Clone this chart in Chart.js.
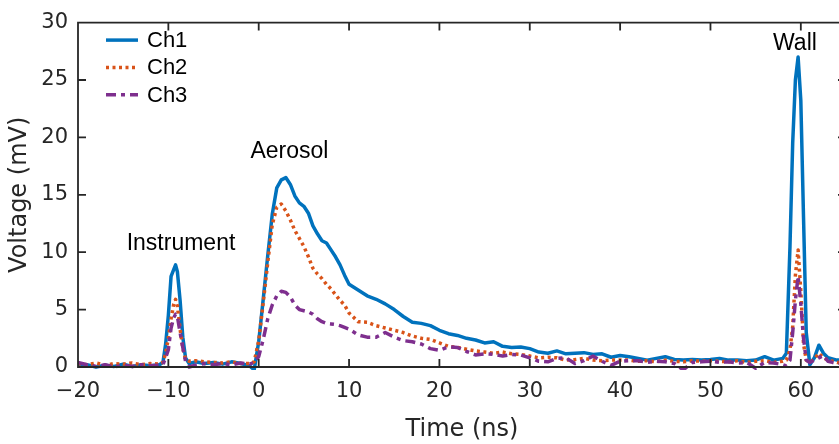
<!DOCTYPE html>
<html>
<head>
<meta charset="utf-8">
<script src="https://cdn.jsdelivr.net/npm/chart.js@4.4.1/dist/chart.umd.min.js"></script>
<style>
  html, body { margin: 0; padding: 0; background: #fff; overflow: hidden; }
  #myChart { display: block; }
</style>
</head>
<body>
<canvas id="myChart" width="846" height="444"></canvas>
<script>
// Sample times (ns), shared by all three channels
const timeNs = [
    -20, -19, -18, -17, -16, -15, -14, -13, -12, -11,
    -10.6, -10.3, -10, -9.7, -9.4, -9.2, -9, -8.7, -8.4, -8.1,
    -7.7, -7, -6, -5, -4, -3, -2, -1, -0.5, 0,
    0.5, 1, 1.5, 2, 2.5, 3, 3.5, 4, 4.5, 5,
    5.5, 6, 6.5, 7, 7.5, 8, 8.5, 9, 9.5, 10,
    11, 12, 13, 14, 15, 16, 17, 18, 19, 20,
    21, 22, 23, 24, 25, 26, 27, 28, 29, 30,
    31, 32, 33, 34, 35, 36, 37, 38, 39, 40,
    41, 42, 43, 44, 45, 46, 47, 48, 49, 50,
    51, 52, 53, 54, 55, 56, 57, 58, 58.4, 58.8,
    59.1, 59.4, 59.7, 60, 60.3, 60.6, 61, 61.5, 62, 62.5,
    63, 63.5, 64, 64.5, 65
];

// Voltage (mV) for each channel
const ch1 = [
    0.1, 0.2, 0.0, 0.15, 0.05, 0.25, 0.05, 0.2, 0.1, 0.2,
    0.4, 2.0, 4.5, 7.9, 8.5, 8.9, 8.3, 5.8, 2.6, 0.8,
    0.3, 0.45, 0.3, 0.4, 0.25, 0.45, 0.3, 0.1, -0.25, 2.2,
    5.9, 9.7, 13.3, 15.6, 16.3, 16.5, 15.9, 14.9, 14.3, 14.0,
    13.4, 12.3, 11.6, 11.0, 10.8, 10.2, 9.6, 8.9, 8.0, 7.2,
    6.7, 6.2, 5.9, 5.5, 5.0, 4.4, 3.9, 3.8, 3.6, 3.2,
    2.9, 2.75, 2.5, 2.35, 2.1, 2.2, 1.8, 1.7, 1.75, 1.6,
    1.3, 1.2, 1.4, 1.15, 1.2, 1.25, 1.1, 1.15, 0.85, 1.0,
    0.9, 0.75, 0.6, 0.75, 0.9, 0.65, 0.6, 0.65, 0.6, 0.65,
    0.75, 0.6, 0.6, 0.55, 0.6, 0.9, 0.6, 0.75, 1.2, 10.5,
    19.5, 25.0, 27.0, 23.2, 13.0, 3.0, 0.2, 0.8, 1.9, 1.2,
    0.8, 0.7, 0.6, 0.6, 0.6
];
const ch2 = [
    0.3, 0.2, 0.35, 0.15, 0.3, 0.25, 0.35, 0.2, 0.3, 0.25,
    0.4, 1.2, 2.5, 4.2, 5.5, 5.9, 5.3, 3.3, 1.6, 0.7,
    0.5, 0.55, 0.45, 0.4, 0.35, 0.45, 0.3, 0.3, 0.45, 2.3,
    5.6, 9.1, 12.4, 13.9, 14.2, 13.6, 12.8, 11.9, 11.2, 10.5,
    9.6, 8.6, 8.1, 7.7, 7.2, 6.8, 6.3, 5.8, 5.4, 4.7,
    3.95, 3.9, 3.6, 3.4, 3.2, 3.0, 2.7, 2.5, 2.4, 2.1,
    1.8, 1.7, 1.55, 1.4, 1.3, 1.2, 1.3, 1.15, 1.1, 0.95,
    0.8, 0.85, 0.8, 0.6, 0.65, 0.75, 0.6, 0.55, 0.6, 0.6,
    0.6, 0.5, 0.55, 0.45, 0.6, 0.5, 0.45, 0.55, 0.5, 0.55,
    0.5, 0.45, 0.55, 0.4, 0.5, 0.55, 0.4, 0.5, 0.6, 1.5,
    3.5, 8.0, 10.2, 6.6, 2.0, 0.6, 0.4, 0.7, 1.2, 0.8,
    0.6, 0.5, 0.4, 0.4, 0.4
];
const ch3 = [
    0.4, 0.2, 0.05, 0.2, 0.0, 0.15, 0.05, 0.2, 0.1, 0.15,
    0.2, 0.8, 1.5, 3.4, 4.3, 4.6, 4.4, 3.0, 1.7, 0.5,
    0.0, 0.15, 0.3, 0.2, 0.3, 0.2, 0.35, 0.25, 0.4, 0.9,
    2.4, 4.2, 5.4, 6.2, 6.6, 6.5, 6.1, 5.4, 5.0, 4.9,
    4.8, 4.6, 4.2, 3.95, 3.8, 3.75, 3.7, 3.6, 3.45, 3.3,
    2.8, 2.6, 2.6, 3.0, 2.6, 2.3, 2.2, 2.0, 1.6, 1.45,
    1.75, 1.7, 1.35, 1.05, 1.15, 1.1, 0.95, 1.1, 1.05, 0.8,
    0.5, 0.45, 0.75, 0.8, 0.3, 0.55, 0.95, 0.5, 0.15, 0.5,
    0.55, 0.55, 0.4, 0.5, 0.45, 0.3, -0.25, 0.4, 0.45, 0.5,
    0.4, 0.45, 0.35, 0.4, -0.1, 0.4, 0.35, 0.2, 0.1, 0.6,
    3.0, 5.8, 7.9, 5.5, 2.5, 0.6, 0.4, 0.6, 0.8, 1.0,
    0.5, 0.4, 0.35, 0.3, 0.3
];

const seriesNames = ['Ch1', 'Ch2', 'Ch3'];

// Peak labels, placed in data coordinates (time, voltage at text baseline)
const peakLabels = ['Instrument', 'Aerosol', 'Wall'];
const peakLabelTimes = [-8.6, 3.4, 59.35];
const peakLabelVolts = [10.2, 18.2, 27.6];

const axisColor = '#262626';

function toPoints(values) {
    return timeNs.map((t, i) => ({ x: t, y: values[i] }));
}

// Box with inward ticks on all four sides
const framePlugin = {
    id: 'frame',
    afterDraw(chart) {
        const ctx = chart.ctx;
        const a = chart.chartArea;
        const xs = chart.scales.x;
        const ys = chart.scales.y;
        const len = 8;
        ctx.save();
        ctx.strokeStyle = axisColor;
        ctx.lineWidth = 1.8;
        ctx.beginPath();
        ctx.rect(a.left, a.top, a.right - a.left, a.bottom - a.top);
        xs.ticks.forEach(tk => {
            const px = xs.getPixelForValue(tk.value);
            ctx.moveTo(px, a.bottom); ctx.lineTo(px, a.bottom - len);
            ctx.moveTo(px, a.top); ctx.lineTo(px, a.top + len);
        });
        ys.ticks.forEach(tk => {
            const py = ys.getPixelForValue(tk.value);
            ctx.moveTo(a.left, py); ctx.lineTo(a.left + len, py);
            ctx.moveTo(a.right, py); ctx.lineTo(a.right - len, py);
        });
        ctx.stroke();
        ctx.restore();
    }
};

// Legend inside the top-left corner, drawn from the dataset styles
const legendPlugin = {
    id: 'insideLegend',
    afterDraw(chart) {
        const ctx = chart.ctx;
        const a = chart.chartArea;
        ctx.save();
        ctx.font = '22px "Liberation Sans", Arial, sans-serif';
        ctx.textBaseline = 'middle';
        ctx.fillStyle = '#000';
        seriesNames.forEach((name, i) => {
            const ds = chart.data.datasets[i];
            const y = a.top + 17.5 + i * 27.3;
            const x0 = a.left + 28;
            ctx.strokeStyle = ds.borderColor;
            ctx.lineWidth = ds.borderWidth;
            ctx.setLineDash(ds.borderDash || []);
            ctx.beginPath();
            ctx.moveTo(x0, y);
            ctx.lineTo(x0 + 32, y);
            ctx.stroke();
            ctx.setLineDash([]);
            ctx.fillText(name, x0 + 41, y + 1);
        });
        ctx.restore();
    }
};

// Text labels over the three peaks
const peakLabelPlugin = {
    id: 'peakLabels',
    afterDraw(chart) {
        const ctx = chart.ctx;
        ctx.save();
        ctx.font = '23px "Liberation Sans", Arial, sans-serif';
        ctx.textAlign = 'center';
        ctx.textBaseline = 'alphabetic';
        ctx.fillStyle = '#000';
        peakLabels.forEach((txt, i) => {
            const px = chart.scales.x.getPixelForValue(peakLabelTimes[i]);
            const py = chart.scales.y.getPixelForValue(peakLabelVolts[i]);
            ctx.fillText(txt, px, py);
        });
        ctx.restore();
    }
};

function renderChart() {
    const ctx = document.getElementById('myChart').getContext('2d');

    new Chart(ctx, {
        type: 'line',
        data: {
            datasets: [{
                label: seriesNames[0],
                data: toPoints(ch1),
                borderColor: '#0072BD',
                borderWidth: 3.5,
                order: 3
            }, {
                label: seriesNames[1],
                data: toPoints(ch2),
                borderColor: '#D95319',
                borderWidth: 3.5,
                borderDash: [3, 3.5],
                order: 2
            }, {
                label: seriesNames[2],
                data: toPoints(ch3),
                borderColor: '#7E2F8E',
                borderWidth: 3.5,
                borderDash: [10, 5, 4, 5],
                order: 1
            }]
        },
        options: {
            responsive: false,
            animation: false,
            devicePixelRatio: 1,
            layout: { padding: { top: 19, right: 0, bottom: 0, left: 0 } },
            elements: {
                point: { radius: 0 },
                line: { tension: 0, fill: false, borderCapStyle: 'butt', borderJoinStyle: 'round' }
            },
            datasets: { line: { clip: { left: 0, top: 0, right: 0, bottom: 3 } } },
            scales: {
                x: {
                    type: 'linear',
                    min: -20,
                    max: 65,
                    grid: { display: false, drawTicks: false },
                    border: { display: false },
                    afterFit: function (scale) { scale.height = 77; },
                    ticks: {
                        stepSize: 10,
                        includeBounds: false,
                        maxRotation: 0,
                        padding: 12,
                        color: axisColor,
                        font: { family: '"DejaVu Sans"', size: 21 },
                        callback: function (v) { return String(v).replace('-', '\u2212'); }
                    },
                    title: {
                        display: true,
                        text: 'Time (ns)',
                        color: axisColor,
                        font: { family: '"DejaVu Sans"', size: 24 },
                        padding: { top: 0, bottom: 0 }
                    }
                },
                y: {
                    min: 0,
                    max: 30,
                    grid: { display: false, drawTicks: false },
                    border: { display: false },
                    afterFit: function (scale) { scale.width = 78; },
                    ticks: {
                        stepSize: 5,
                        padding: 10,
                        color: axisColor,
                        font: { family: '"DejaVu Sans"', size: 21 }
                    },
                    title: {
                        display: true,
                        text: 'Voltage (mV)',
                        color: axisColor,
                        font: { family: '"DejaVu Sans"', size: 24 },
                        padding: { top: 5, bottom: 0 }
                    }
                }
            },
            plugins: {
                legend: { display: false },
                tooltip: { enabled: false }
            }
        },
        plugins: [framePlugin, legendPlugin, peakLabelPlugin]
    });
}

window.onload = function () {
    renderChart();
};
</script>
</body>
</html>
